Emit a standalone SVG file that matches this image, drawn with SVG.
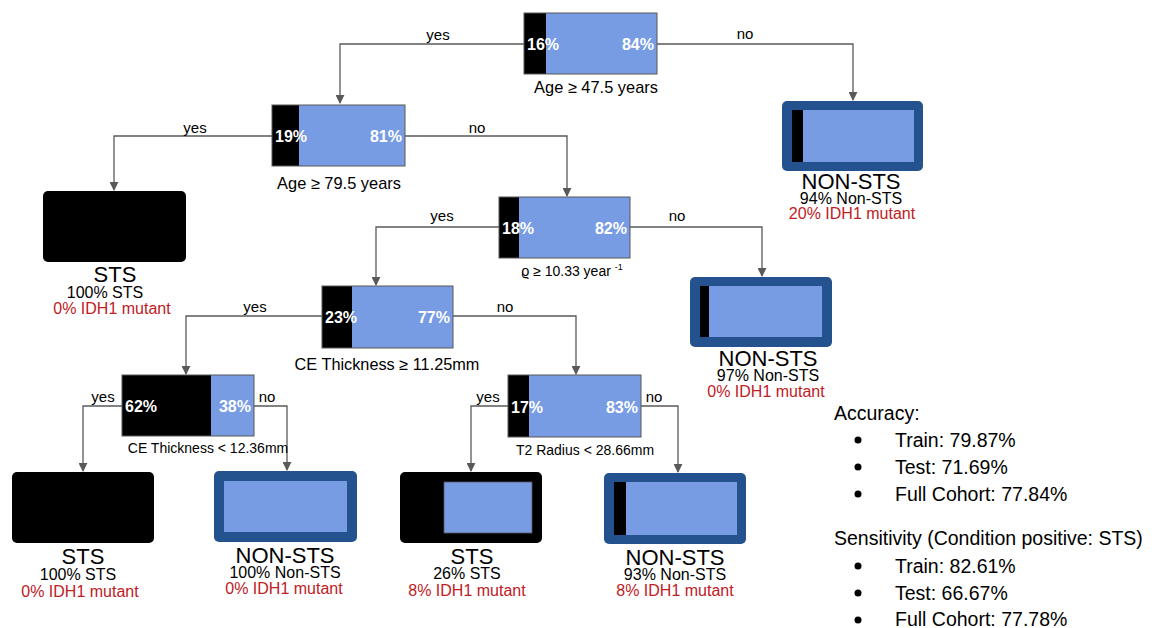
<svg xmlns="http://www.w3.org/2000/svg" width="1152" height="628" viewBox="0 0 1152 628">
<defs>
<marker id="arr" viewBox="0 0 10 10" refX="9" refY="5" markerWidth="9" markerHeight="9" markerUnits="userSpaceOnUse" orient="auto">
<path d="M0,0 L10,5 L0,10 z" fill="#595959"/>
</marker>
<style>
text{font-family:"Liberation Sans",Arial,sans-serif;}
.conn path{fill:none;stroke:#595959;stroke-width:1.3;}
.yn{font-size:15px;fill:#000;text-anchor:middle;}
.box{stroke:#595959;stroke-width:1;}
.blk{fill:#000;}
.blu{fill:#779ce3;}
.dk{fill:#24528f;}
.pct{font-size:16px;font-weight:bold;fill:#fff;}
.lbl{fill:#000;text-anchor:middle;}
.t{font-size:22px;fill:#000;text-anchor:middle;}
.s{font-size:16px;fill:#000;text-anchor:middle;}
.r{font-size:16px;fill:#c0201e;text-anchor:middle;}
.side{font-size:19.5px;fill:#000;}
</style>
</defs>
<rect width="1152" height="628" fill="#fff"/>

<g id="connectors" class="conn">
<path d="M524,44 H340 V103" marker-end="url(#arr)"/>
<path d="M657,44 H853 V100" marker-end="url(#arr)"/>
<path d="M272,136 H114 V190" marker-end="url(#arr)"/>
<path d="M405,136 H567 V196" marker-end="url(#arr)"/>
<path d="M499,227 H376 V285" marker-end="url(#arr)"/>
<path d="M630,227 H762 V276" marker-end="url(#arr)"/>
<path d="M322,316 H186 V374" marker-end="url(#arr)"/>
<path d="M453,316 H576 V374" marker-end="url(#arr)"/>
<path d="M122,406 H83 V471" marker-end="url(#arr)"/>
<path d="M254,406 H287 V470" marker-end="url(#arr)"/>
<path d="M508,406 H471 V471" marker-end="url(#arr)"/>
<path d="M641,406 H678 V472" marker-end="url(#arr)"/>
<text class="yn" x="438" y="40">yes</text>
<text class="yn" x="745" y="39">no</text>
<text class="yn" x="195" y="133">yes</text>
<text class="yn" x="477" y="133">no</text>
<text class="yn" x="442" y="221">yes</text>
<text class="yn" x="677" y="221">no</text>
<text class="yn" x="255" y="312">yes</text>
<text class="yn" x="505" y="312">no</text>
<text class="yn" x="103" y="402">yes</text>
<text class="yn" x="267" y="402">no</text>
<text class="yn" x="488" y="402">yes</text>
<text class="yn" x="654" y="402">no</text>
</g>

<g id="node-age47">
<rect class="blu" x="524" y="13" width="133" height="61"/>
<rect class="blk" x="524" y="13" width="22" height="61"/>
<rect class="box" x="524" y="13" width="133" height="61" fill="none"/>
<text class="pct" x="527" y="50">16%</text>
<text class="pct" x="654" y="50" text-anchor="end">84%</text>
<text class="lbl" x="596" y="93" font-size="16.4">Age ≥ 47.5 years</text>
</g>

<g id="node-age79">
<rect class="blu" x="272" y="105" width="133" height="61"/>
<rect class="blk" x="272" y="105" width="27" height="61"/>
<rect class="box" x="272" y="105" width="133" height="61" fill="none"/>
<text class="pct" x="275" y="142">19%</text>
<text class="pct" x="402" y="142" text-anchor="end">81%</text>
<text class="lbl" x="339" y="189" font-size="16.4">Age ≥ 79.5 years</text>
</g>

<g id="node-rho">
<rect class="blu" x="499" y="197" width="131" height="61"/>
<rect class="blk" x="499" y="197" width="20" height="61"/>
<rect class="box" x="499" y="197" width="131" height="61" fill="none"/>
<text class="pct" x="502" y="234">18%</text>
<text class="pct" x="627" y="234" text-anchor="end">82%</text>
<text class="lbl" x="572" y="276" font-size="14">ϱ ≥ 10.33 year <tspan font-size="9" dy="-6">-1</tspan></text>
</g>

<g id="node-ce1125">
<rect class="blu" x="322" y="286" width="131" height="62"/>
<rect class="blk" x="322" y="286" width="30" height="62"/>
<rect class="box" x="322" y="286" width="131" height="62" fill="none"/>
<text class="pct" x="325" y="323">23%</text>
<text class="pct" x="450" y="323" text-anchor="end">77%</text>
<text class="lbl" x="387" y="370" font-size="16.3">CE Thickness ≥ 11.25mm</text>
</g>

<g id="node-ce1236">
<rect class="blu" x="122" y="375" width="132" height="61"/>
<rect class="blk" x="122" y="375" width="89" height="61"/>
<rect class="box" x="122" y="375" width="132" height="61" fill="none"/>
<text class="pct" x="125" y="412">62%</text>
<text class="pct" x="251" y="412" text-anchor="end">38%</text>
<text class="lbl" x="208" y="453" font-size="14">CE Thickness &lt; 12.36mm</text>
</g>

<g id="node-t2">
<rect class="blu" x="508" y="375" width="133" height="62"/>
<rect class="blk" x="508" y="375" width="21" height="62"/>
<rect class="box" x="508" y="375" width="133" height="62" fill="none"/>
<text class="pct" x="511" y="413">17%</text>
<text class="pct" x="638" y="413" text-anchor="end">83%</text>
<text class="lbl" x="585" y="455" font-size="14">T2 Radius &lt; 28.66mm</text>
</g>

<g id="leaf-top-right">
<rect class="dk" x="782" y="101" width="141" height="70" rx="5"/>
<rect class="blu" x="792" y="110" width="122" height="52"/>
<rect class="blk" x="792" y="110" width="11" height="52"/>
<text class="t" x="851" y="189">NON-STS</text>
<text class="s" x="851" y="204">94% Non-STS</text>
<text class="r" x="852" y="219">20% IDH1 mutant</text>
</g>

<g id="leaf-sts-1">
<rect class="blk" x="43" y="191" width="143" height="71" rx="5"/>
<text class="t" x="115" y="282">STS</text>
<text class="s" x="105" y="298">100% STS</text>
<text class="r" x="112" y="314">0% IDH1 mutant</text>
</g>

<g id="leaf-mid-right">
<rect class="dk" x="690" y="277" width="142" height="70" rx="5"/>
<rect class="blu" x="700" y="286" width="122" height="51"/>
<rect class="blk" x="700" y="286" width="9" height="51"/>
<text class="t" x="768" y="366">NON-STS</text>
<text class="s" x="768" y="381">97% Non-STS</text>
<text class="r" x="766" y="397">0% IDH1 mutant</text>
</g>

<g id="leaf-sts-2">
<rect class="blk" x="12" y="472" width="142" height="71" rx="5"/>
<text class="t" x="83" y="564">STS</text>
<text class="s" x="78" y="580">100% STS</text>
<text class="r" x="80" y="597">0% IDH1 mutant</text>
</g>

<g id="leaf-non-2">
<rect class="dk" x="214" y="471" width="143" height="71" rx="5"/>
<rect class="blu" x="224" y="481" width="123" height="51"/>
<text class="t" x="285" y="563">NON-STS</text>
<text class="s" x="285" y="578">100% Non-STS</text>
<text class="r" x="284" y="594">0% IDH1 mutant</text>
</g>

<g id="leaf-sts-3">
<rect class="blk" x="400" y="472" width="142" height="71" rx="5"/>
<rect class="blu" x="444" y="482" width="88" height="51" stroke="#595959" stroke-width="0.8"/>
<text class="t" x="472" y="564">STS</text>
<text class="s" x="467" y="579">26% STS</text>
<text class="r" x="467" y="596">8% IDH1 mutant</text>
</g>

<g id="leaf-non-3">
<rect class="dk" x="604" y="473" width="142" height="71" rx="5"/>
<rect class="blu" x="614" y="482" width="123" height="53"/>
<rect class="blk" x="614" y="482" width="12" height="53"/>
<text class="t" x="675" y="565">NON-STS</text>
<text class="s" x="675" y="580">93% Non-STS</text>
<text class="r" x="675" y="596">8% IDH1 mutant</text>
</g>

<g id="metrics">
<text class="side" x="834" y="420">Accuracy:</text>
<circle cx="858" cy="440" r="3.5" fill="#000"/>
<text class="side" x="895" y="447">Train: 79.87%</text>
<circle cx="858" cy="467" r="3.5" fill="#000"/>
<text class="side" x="895" y="474">Test: 71.69%</text>
<circle cx="858" cy="494" r="3.5" fill="#000"/>
<text class="side" x="895" y="501">Full Cohort: 77.84%</text>
<text class="side" x="834" y="545">Sensitivity (Condition positive: STS)</text>
<circle cx="858" cy="566" r="3.5" fill="#000"/>
<text class="side" x="895" y="573">Train: 82.61%</text>
<circle cx="858" cy="593" r="3.5" fill="#000"/>
<text class="side" x="895" y="600">Test: 66.67%</text>
<circle cx="858" cy="620" r="3.5" fill="#000"/>
<text class="side" x="895" y="626">Full Cohort: 77.78%</text>
</g>
</svg>
